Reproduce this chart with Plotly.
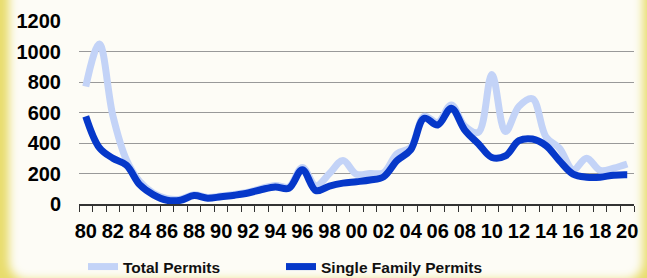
import base64
import plotly.graph_objects as go

years = ['80', '81', '82', '83', '84', '85', '86', '87', '88', '89',
         '90', '91', '92', '93', '94', '95', '96', '97', '98', '99',
         '00', '01', '02', '03', '04', '05', '06', '07', '08', '09',
         '10', '11', '12', '13', '14', '15', '16', '17', '18', '19', '20']
tick_labels = ['80', '', '82', '', '84', '', '86', '', '88', '',
               '90', '', '92', '', '94', '', '96', '', '98', '',
               '00', '', '02', '', '04', '', '06', '', '08', '',
               '10', '', '12', '', '14', '', '16', '', '18', '', '20']
total_permits = [770, 1050, 580, 290, 145, 70, 35, 32, 60, 43,
                 52, 62, 77, 102, 122, 112, 240, 120, 200, 285,
                 195, 200, 205, 330, 370, 575, 535, 650, 510, 470,
                 850, 475, 640, 690, 440, 365, 225, 300, 220, 235, 262]
single_family = [575, 370, 300, 255, 125, 60, 25, 25, 55, 38,
                 48, 58, 72, 95, 112, 103, 225, 88, 118, 137,
                 146, 157, 178, 285, 355, 562, 518, 628, 485, 395,
                 305, 315, 415, 426, 383, 283, 196, 176, 176, 189, 191]
y_ticks = [0, 200, 400, 600, 800, 1000, 1200]

W, H = 647, 278
L, R, T, B = 79, 13, 21, 74
PW, PH = W - L - R, H - T - B


def px_x(px):
    return (px - L) / PW


def px_y(py):
    return (T + PH - py) / PH


svg = f'''<svg xmlns="http://www.w3.org/2000/svg" width="{W}" height="{H}" viewBox="0 0 {W} {H}">
<defs><filter id="b" x="-20%" y="-20%" width="140%" height="140%"><feGaussianBlur stdDeviation="5"/></filter></defs>
<rect width="{W}" height="{H}" fill="#e8dc6c"/>
<rect x="9" y="-40" width="{W-13}" height="{H+40+2}" rx="18" fill="#fdfcf6" filter="url(#b)"/>
</svg>'''
src = 'data:image/svg+xml;base64,' + base64.b64encode(svg.encode()).decode()

fig = go.Figure()
fig.add_trace(go.Scatter(x=years, y=total_permits, mode='lines', name='Total Permits',
                         legend='legend',
                         line=dict(color='#c3d3f7', width=7, shape='spline', smoothing=1)))
fig.add_trace(go.Scatter(x=years, y=single_family, mode='lines', name='Single Family Permits',
                         legend='legend2',
                         line=dict(color='#0638c9', width=7, shape='spline', smoothing=1)))

legend_font = dict(family='Liberation Sans, Arial, sans-serif', size=15.5,
                   color='#111111', weight='bold')

fig.update_layout(
    width=W, height=H,
    margin=dict(l=L, r=R, t=T, b=B, pad=0, autoexpand=False),
    paper_bgcolor='#fdfcf6',
    plot_bgcolor='rgba(0,0,0,0)',
    images=[dict(source=src, xref='paper', yref='paper',
                 x=px_x(0), y=px_y(0), sizex=W / PW, sizey=H / PH,
                 xanchor='left', yanchor='top', sizing='stretch', layer='below')],
    font=dict(family='Liberation Sans, Arial, sans-serif', color='#000000'),
    showlegend=True,
    legend=dict(orientation='h', x=px_x(83), y=px_y(267),
                xanchor='left', yanchor='middle', bgcolor='rgba(0,0,0,0)',
                font=legend_font),
    legend2=dict(orientation='h', x=px_x(281), y=px_y(267),
                 xanchor='left', yanchor='middle', bgcolor='rgba(0,0,0,0)',
                 font=legend_font),
    xaxis=dict(type='category', range=[-0.5, 40.5], tickmode='array',
               tickvals=years, ticktext=tick_labels, tickson='boundaries',
               tickangle=0, automargin=False, ticklabelstandoff=8,
               ticks='outside', ticklen=6, tickwidth=1, tickcolor='#333333',
               showline=True, linecolor='#333333', linewidth=1.5,
               showgrid=False, zeroline=False,
               tickfont=dict(size=20, weight='bold', color='#000000',
                             family='Liberation Sans, Arial, sans-serif')),
    yaxis=dict(range=[0, 1200], tickmode='array', tickvals=y_ticks, automargin=False,
               showgrid=True, gridcolor='#999999', gridwidth=1,
               zeroline=False, showline=False, ticks='', ticklabelstandoff=17,
               tickfont=dict(size=20, weight='bold', color='#000000',
                             family='Liberation Sans, Arial, sans-serif')),
)

fig.write_html('out.html', config=dict(displayModeBar=False),
               post_script="document.body.style.margin='0';document.body.style.padding='0';"
                           "document.body.style.overflow='hidden';")
